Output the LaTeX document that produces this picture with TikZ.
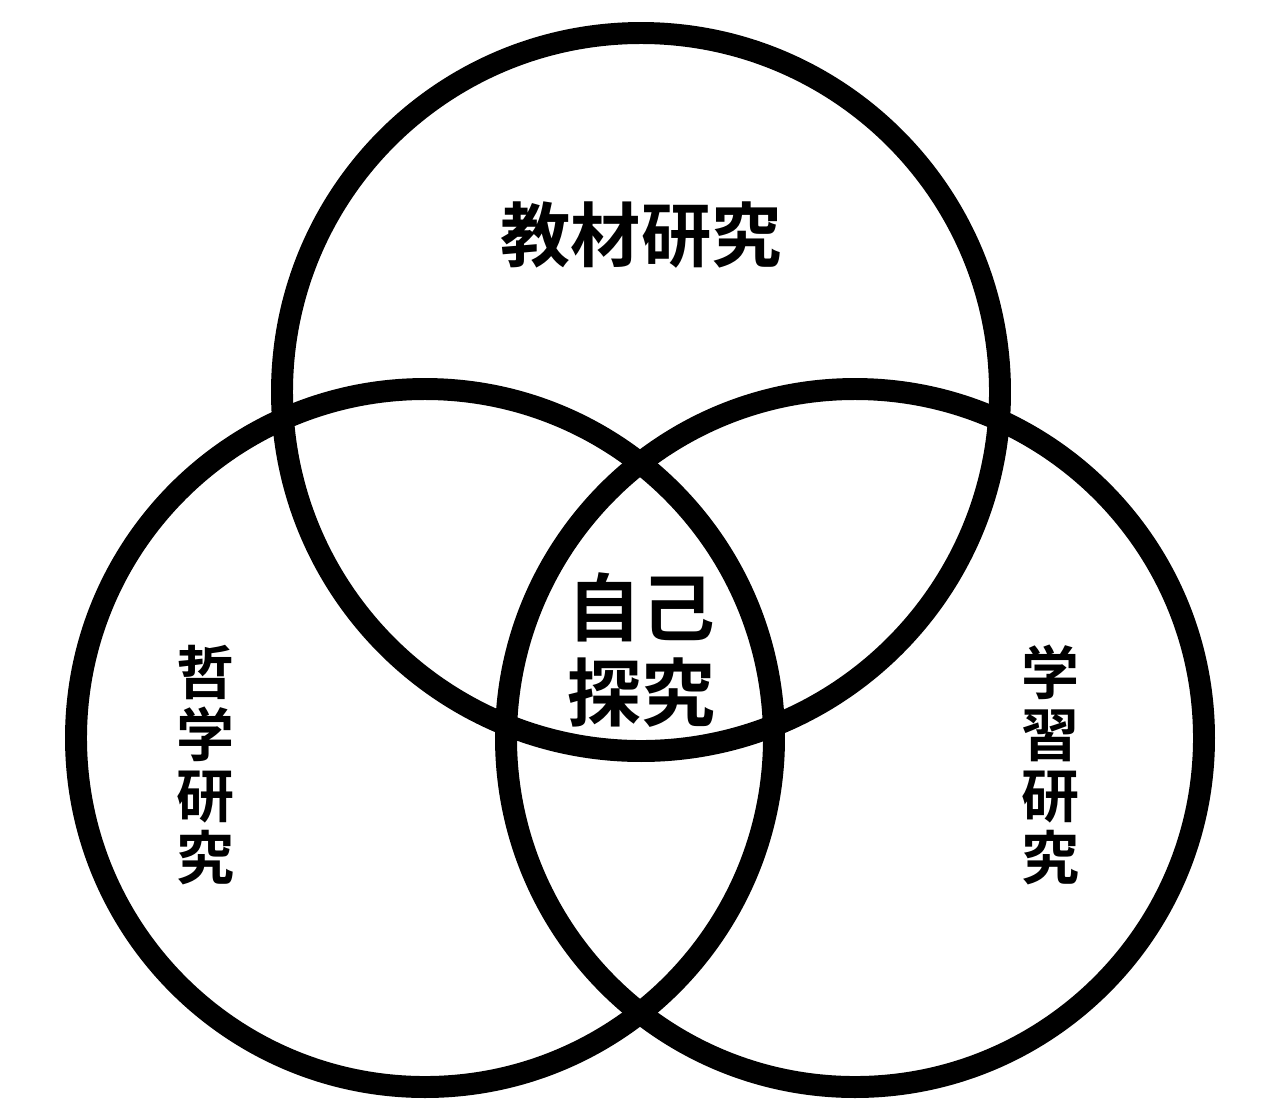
\documentclass[tikz,border=0pt]{standalone}
\usepackage{fontspec}
\newfontfamily\jp{Noto Sans CJK JP Bold}
\begin{document}
\begin{tikzpicture}[x=0.02cm,y=-0.02cm,
  ring/.style={draw=black,line width=12.5pt},
  lbl/.style={font=\jp\fontsize{40}{46}\selectfont,inner sep=0pt,align=center}]
\useasboundingbox[fill=white] (0,0) rectangle (1280,1100);
\draw[ring] (641,392) circle[radius=359];
\draw[ring] (425,738) circle[radius=349];
\draw[ring] (855,738) circle[radius=349];
\node[lbl] (top) at (641,235) {教材研究};
\node[lbl,font=\jp\fontsize{33}{35}\selectfont] (left) at (205,765) {哲\\学\\研\\究};
\node[lbl,font=\jp\fontsize{33}{35}\selectfont] (right) at (1050,765) {学\\習\\研\\究};
\node[lbl,font=\jp\fontsize{42}{48}\selectfont] (mid) at (641,650) {自己\\探究};
\end{tikzpicture}
\end{document}
